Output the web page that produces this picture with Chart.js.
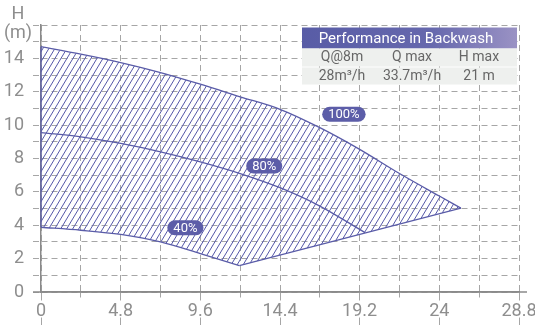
<!DOCTYPE html>
<html>
<head>
<meta charset="utf-8">
<script src="https://cdn.jsdelivr.net/npm/chart.js@4.4.0/dist/chart.umd.min.js"></script>
<style>
    html, body { margin: 0; padding: 0; background: #fff; }
    #wrap { width: 535px; height: 325px; }
</style>
</head>
<body>
<div id="wrap"><canvas id="pump_chart" width="535" height="325"></canvas></div>
<script>
// flow Q (m3/h) and head H (m)
const flow100 = [0, 2.4, 4.8, 7.2, 9.6, 12, 14.4, 16.8, 19.2, 21.6, 24, 25.3];
const head100 = [14.7, 14.25, 13.75, 13.15, 12.45, 11.7, 10.95, 9.85, 8.55, 7.1, 5.75, 5.03];
const flow80 = [0, 2.4, 4.8, 7.2, 9.6, 12, 14.4, 16.8, 19.2, 19.5];
const head80 = [9.55, 9.3, 8.9, 8.4, 7.8, 7.1, 6.25, 5.15, 3.75, 3.57];
const flow40 = [0, 2.4, 4.8, 7.2, 9.6, 11.95];
const head40 = [3.88, 3.7, 3.45, 3.0, 2.3, 1.58];
const flowEdge = [11.95, 25.3];
const headEdge = [1.58, 5.03];

const xLabels = ['0', '4.8', '9.6', '14.4', '19.2', '24', '28.8'];
const yLabels = ['0', '2', '4', '6', '8', '10', '12', '14'];
const yTitle = ['H', '(m)'];
const curveNames = ['100%', '80%', '40%'];

const tableTitle = 'Performance in Backwash';
const tableHead = ['Q@8m', 'Q max', 'H max'];
const tableRow = ['28m³/h', '33.7m³/h', '21 m'];

////////////////////// styles ///////////////////
const lineColor = '#5a5ca8';
const gridColor = '#a6a6a6';
const axisColor = '#8a8a8a';
const labelColor = '#8e8e8e';
const fontFamily = 'Roboto, "Noto Sans", sans-serif';

// where the % tags sit, in chart units
const tagAt = [[18.25, 10.65], [13.45, 7.55], [8.7, 3.85]];

function pts(xs, ys) {
    return xs.map(function (x, i) { return {x: x, y: ys[i]}; });
}

function lineSet(label, xs, ys, smooth) {
    return {
        label: label,
        data: pts(xs, ys),
        borderColor: lineColor,
        borderWidth: 1.3,
        pointRadius: 0,
        fill: false,
        tension: smooth ? 0.4 : 0,
        cubicInterpolationMode: smooth ? 'monotone' : 'default'
    };
}

const canvas = document.getElementById('pump_chart');
const ctx0 = canvas.getContext('2d');

function makeHatch() {
    const c = document.createElement('canvas');
    c.width = 6;
    c.height = 10;
    const g = c.getContext('2d');
    g.strokeStyle = '#5558a8';
    g.lineWidth = 1;
    [-6, 0, 6].forEach(function (dx) {
        g.beginPath();
        g.moveTo(dx, 10);
        g.lineTo(dx + 6, 0);
        g.stroke();
    });
    return ctx0.createPattern(c, 'repeat');
}
const hatch = makeHatch();

// hatched band between the 100% curve and the 40% curve + min line
const hatchPlugin = {
    id: 'hatch',
    beforeDatasetsDraw(chart) {
        const ctx = chart.ctx;
        const area = chart.chartArea;
        const top = chart.getDatasetMeta(0);
        const low = chart.getDatasetMeta(2);
        const edge = chart.getDatasetMeta(3);
        top.dataset.updateControlPoints(area, 'x');
        low.dataset.updateControlPoints(area, 'x');
        const first = top.data[0];
        const last = top.data[top.data.length - 1];
        ctx.save();
        ctx.beginPath();
        top.dataset.path(ctx);
        ctx.lineTo(last.x, area.bottom);
        ctx.lineTo(first.x, area.bottom);
        ctx.closePath();
        ctx.clip();
        ctx.beginPath();
        low.dataset.path(ctx);
        edge.data.forEach(function (p) { ctx.lineTo(p.x, p.y); });
        ctx.lineTo(last.x, area.top);
        ctx.lineTo(first.x, area.top);
        ctx.closePath();
        ctx.fillStyle = hatch;
        ctx.fill();
        ctx.restore();

        // left edge of the band
        ctx.save();
        ctx.strokeStyle = lineColor;
        ctx.lineWidth = 1.3;
        ctx.beginPath();
        ctx.moveTo(first.x, first.y);
        ctx.lineTo(low.data[0].x, low.data[0].y);
        ctx.stroke();
        ctx.restore();
    }
};

function pill(ctx, cx, cy, text) {
    ctx.font = '13px ' + fontFamily;
    const w = ctx.measureText(text).width + 12;
    const h = 15;
    const r = h / 2;
    ctx.beginPath();
    ctx.moveTo(cx - w / 2 + r, cy - r);
    ctx.lineTo(cx + w / 2 - r, cy - r);
    ctx.arc(cx + w / 2 - r, cy, r, -Math.PI / 2, Math.PI / 2);
    ctx.lineTo(cx - w / 2 + r, cy + r);
    ctx.arc(cx - w / 2 + r, cy, r, Math.PI / 2, Math.PI * 1.5);
    ctx.closePath();
    ctx.fillStyle = '#5c5da8';
    ctx.fill();
    ctx.fillStyle = '#ffffff';
    ctx.textAlign = 'center';
    ctx.textBaseline = 'middle';
    ctx.fillText(text, cx, cy + 0.5);
}

const extrasPlugin = {
    id: 'extras',
    afterDraw(chart) {
        const ctx = chart.ctx;
        const area = chart.chartArea;
        const xs = chart.scales.x;
        const ys = chart.scales.y;
        ctx.save();

        // x axis runs a little past the plot
        ctx.strokeStyle = axisColor;
        ctx.lineWidth = 1.5;
        ctx.beginPath();
        ctx.moveTo(area.left - 8, area.bottom);
        ctx.lineTo(area.right + 8, area.bottom);
        ctx.stroke();

        // H (m)
        ctx.fillStyle = labelColor;
        ctx.font = '18px ' + fontFamily;
        ctx.textAlign = 'center';
        ctx.textBaseline = 'middle';
        ctx.fillText(yTitle[0], area.left - 23, area.top - 11);
        ctx.fillText(yTitle[1], area.left - 23, area.top + 8);

        // curve tags
        curveNames.forEach(function (name, i) {
            pill(ctx, xs.getPixelForValue(tagAt[i][0]), ys.getPixelForValue(tagAt[i][1]), name);
        });

        // performance table
        const tx = area.right - 217;
        const ty = area.top + 2.5;
        const tw = 215;
        const grad = ctx.createLinearGradient(tx, 0, tx + tw, 0);
        grad.addColorStop(0, '#585ca6');
        grad.addColorStop(0.6, '#6668ad');
        grad.addColorStop(1, '#9a92c4');
        ctx.fillStyle = grad;
        ctx.fillRect(tx, ty, tw, 21);
        ctx.fillStyle = '#eef0ee';
        ctx.fillRect(tx, ty + 21, tw, 18);
        ctx.fillRect(tx, ty + 40, tw, 17);

        ctx.fillStyle = '#ffffff';
        ctx.font = '15px ' + fontFamily;
        ctx.fillText(tableTitle, tx + 104, ty + 12);

        const cols = [40, 110, 177];
        ctx.fillStyle = '#666666';
        ctx.font = '14px ' + fontFamily;
        tableHead.forEach(function (t, i) { ctx.fillText(t, tx + cols[i], ty + 30); });
        tableRow.forEach(function (t, i) { ctx.fillText(t, tx + cols[i], ty + 48.5); });

        ctx.restore();
    }
};

new Chart(canvas, {
    type: 'line',
    data: {
        datasets: [
            lineSet('100%', flow100, head100, true),
            lineSet('80%', flow80, head80, true),
            lineSet('40%', flow40, head40, true),
            lineSet('min', flowEdge, headEdge, false)
        ]
    },
    options: {
        responsive: false,
        animation: false,
        layout: { padding: { top: 25, right: 16, left: 0, bottom: 0 } },
        plugins: {
            legend: { display: false },
            tooltip: { enabled: false }
        },
        scales: {
            x: {
                type: 'linear',
                min: 0,
                max: 28.8,
                border: { color: axisColor, width: 1.5, dash: [6, 4] },
                grid: {
                    color: gridColor,
                    tickLength: 33,
                    tickColor: gridColor,
                    tickBorderDash: function (c) { return c.index % 2 === 0 ? [8, 17, 8] : [5, 40]; }
                },
                ticks: {
                    stepSize: 2.4,
                    autoSkip: false,
                    maxRotation: 0,
                    padding: -24,
                    color: labelColor,
                    font: { family: fontFamily, size: 18 },
                    callback: function (v, i) { return i % 2 === 0 ? xLabels[i / 2] : ''; }
                },
                afterFit: function (s) { s.height = 33; s.paddingLeft = 0; s.paddingRight = 0; }
            },
            y: {
                min: 0,
                max: 16,
                border: { color: axisColor, width: 1.5, dash: [6, 4] },
                grid: {
                    color: gridColor,
                    tickLength: 8,
                    tickColor: gridColor,
                    tickBorderDash: [6, 4]
                },
                ticks: {
                    stepSize: 1,
                    autoSkip: false,
                    padding: 9,
                    color: labelColor,
                    font: { family: fontFamily, size: 18 },
                    callback: function (v) { return (v % 2 === 0 && v < 16) ? yLabels[v / 2] : ''; }
                },
                afterFit: function (s) { s.width = 41; s.paddingTop = 0; s.paddingBottom = 0; }
            }
        }
    },
    plugins: [hatchPlugin, extrasPlugin]
});
</script>
</body>
</html>
